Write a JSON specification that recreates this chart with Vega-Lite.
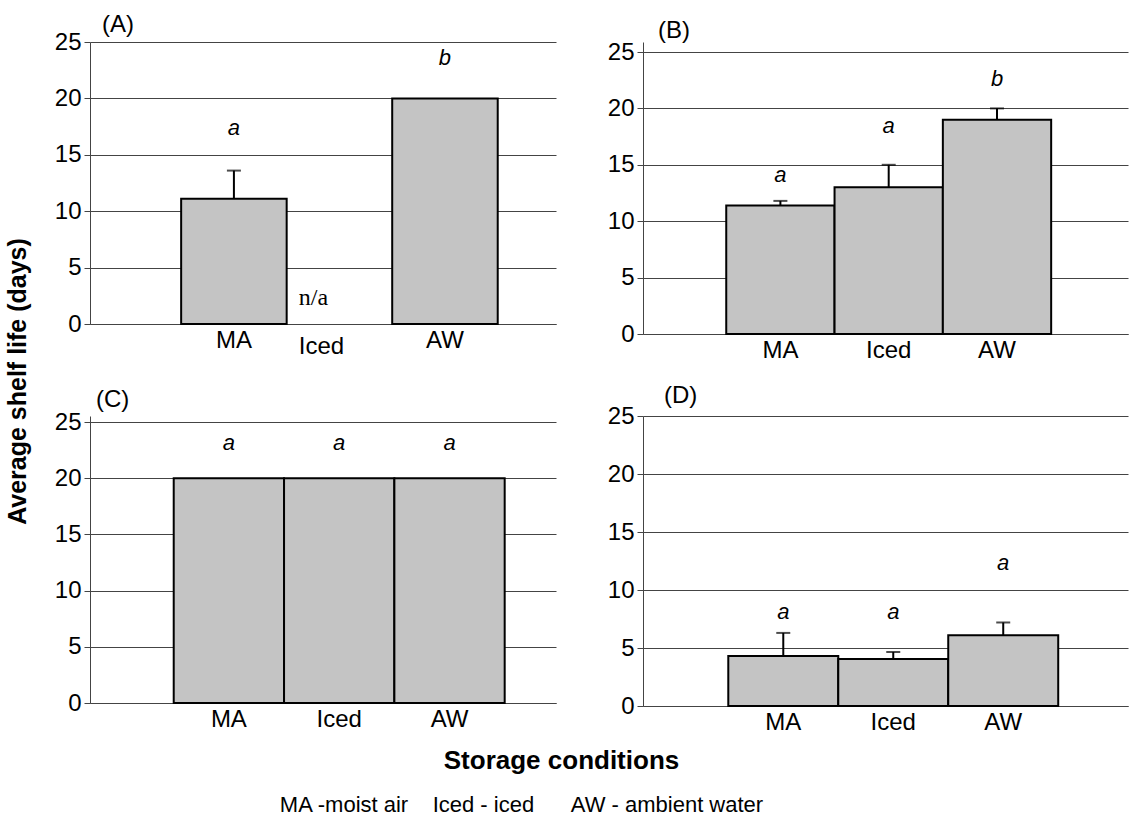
{
  "$schema": "https://vega.github.io/schema/vega-lite/v6.json",
  "data": {"values": [
    {"panel": "A", "cond": "MA", "value": 11.1, "upper": 13.6, "letter": "a", "lpos": 17.4, "note": null, "npos": null},
    {"panel": "A", "cond": "Iced", "value": null, "upper": null, "letter": null, "lpos": null, "note": "n/a", "npos": 2.3},
    {"panel": "A", "cond": "AW", "value": 20, "upper": null, "letter": "b", "lpos": 23.6, "note": null, "npos": null},
    {"panel": "B", "cond": "MA", "value": 11.4, "upper": 11.8, "letter": "a", "lpos": 14.1, "note": null, "npos": null},
    {"panel": "B", "cond": "Iced", "value": 13.0, "upper": 15.0, "letter": "a", "lpos": 18.4, "note": null, "npos": null},
    {"panel": "B", "cond": "AW", "value": 19.0, "upper": 20.0, "letter": "b", "lpos": 22.6, "note": null, "npos": null},
    {"panel": "C", "cond": "MA", "value": 20, "upper": null, "letter": "a", "lpos": 23.1, "note": null, "npos": null},
    {"panel": "C", "cond": "Iced", "value": 20, "upper": null, "letter": "a", "lpos": 23.1, "note": null, "npos": null},
    {"panel": "C", "cond": "AW", "value": 20, "upper": null, "letter": "a", "lpos": 23.1, "note": null, "npos": null},
    {"panel": "D", "cond": "MA", "value": 4.3, "upper": 6.3, "letter": "a", "lpos": 8.1, "note": null, "npos": null},
    {"panel": "D", "cond": "Iced", "value": 4.05, "upper": 4.65, "letter": "a", "lpos": 8.1, "note": null, "npos": null},
    {"panel": "D", "cond": "AW", "value": 6.1, "upper": 7.2, "letter": "a", "lpos": 12.3, "note": null, "npos": null}
  ]},
  "config": {
    "font": "Liberation Sans",
    "view": {"stroke": null},
    "axis": {"labelFont": "Liberation Sans", "labelFontSize": 24, "labelColor": "black", "gridColor": "#444", "domainColor": "#444", "tickColor": "#444", "titleColor": "black", "titleFont": "Liberation Sans"},
    "title": {"font": "Liberation Sans", "fontWeight": "normal", "color": "black"}
  },
  "padding": {"top": 13, "left": 5, "right": 5, "bottom": 5},
  "title": {"text": "MA -moist air\u00a0\u00a0\u00a0\u00a0Iced - iced\u00a0\u00a0\u00a0\u00a0\u00a0\u00a0AW - ambient water", "orient": "bottom", "anchor": "middle", "fontSize": 22, "offset": 22, "dx": -45},
  "bounds": "flush",
  "align": "each",
  "columns": 2,
  "spacing": {"row": 82, "column": 87},
  "concat": [
    {
      "width": 466, "height": 282,
      "title": {"text": "(A)", "anchor": "start", "frame": "group", "offset": -7, "dx": 12, "fontSize": 24},
      "transform": [{"filter": "datum.panel === 'A'"}],
      "encoding": {"x": {"field": "cond", "type": "nominal", "sort": null,
        "scale": {"domain": ["MA", "Iced", "AW"], "paddingInner": 0, "paddingOuter": 0.708, "align": 0.61},
        "axis": {"title": null, "labelAngle": 0, "ticks": false, "grid": false,
          "labelPadding": {"condition": {"test": "datum.value === 'Iced'", "value": 10}, "value": 4},
          "labelOffset": {"condition": {"test": "datum.value === 'Iced'", "value": -18}, "value": 0}}}},
      "layer": [
        {"mark": {"type": "bar", "fill": "#c4c4c4", "stroke": "black", "strokeWidth": 2},
         "encoding": {"y": {"field": "value", "type": "quantitative", "scale": {"domain": [0, 25], "nice": false},
           "axis": {"title": "Average shelf life (days)", "titleFontSize": 25, "titleFontWeight": "bold", "titleX": -73, "titleY": 339, "titleAlign": "center", "titleBaseline": "middle", "values": [0, 5, 10, 15, 20, 25], "grid": true, "tickSize": 6, "labelPadding": 3}}}},
        {"transform": [{"filter": "datum.upper != null"}], "mark": {"type": "rule", "strokeWidth": 2, "color": "black"},
         "encoding": {"y": {"field": "value", "type": "quantitative"}, "y2": {"field": "upper"}}},
        {"transform": [{"filter": "datum.upper != null"}], "mark": {"type": "tick", "size": 14, "thickness": 2, "color": "black"},
         "encoding": {"y": {"field": "upper", "type": "quantitative"}}},
        {"transform": [{"filter": "datum.letter != null"}], "mark": {"type": "text", "fontStyle": "italic", "fontSize": 22, "color": "black"},
         "encoding": {"y": {"field": "lpos", "type": "quantitative"}, "text": {"field": "letter"}}},
        {"transform": [{"filter": "datum.note != null"}], "mark": {"type": "text", "fontSize": 24, "font": "Liberation Serif", "color": "black", "dx": -26},
         "encoding": {"y": {"field": "npos", "type": "quantitative"}, "text": {"field": "note"}}}
      ]
    },
    {
      "width": 485, "height": 292,
      "title": {"text": "(B)", "anchor": "start", "frame": "group", "offset": -3, "dx": 15, "fontSize": 24},
      "transform": [{"filter": "datum.panel === 'B'"}],
      "encoding": {"x": {"field": "cond", "type": "nominal", "sort": null,
        "scale": {"domain": ["MA", "Iced", "AW"], "paddingInner": 0, "paddingOuter": 0.739, "align": 0.52},
        "axis": {"title": null, "labelAngle": 0, "ticks": false, "grid": false, "labelPadding": 4}}},
      "layer": [
        {"mark": {"type": "bar", "fill": "#c4c4c4", "stroke": "black", "strokeWidth": 2},
         "encoding": {"y": {"field": "value", "type": "quantitative", "scale": {"domain": [0, 25.887], "nice": false},
           "axis": {"title": null, "values": [0, 5, 10, 15, 20, 25], "grid": true, "tickSize": 6, "labelPadding": 3}}}},
        {"transform": [{"filter": "datum.upper != null"}], "mark": {"type": "rule", "strokeWidth": 2, "color": "black"},
         "encoding": {"y": {"field": "value", "type": "quantitative"}, "y2": {"field": "upper"}}},
        {"transform": [{"filter": "datum.upper != null"}], "mark": {"type": "tick", "size": 14, "thickness": 2, "color": "black"},
         "encoding": {"y": {"field": "upper", "type": "quantitative"}}},
        {"transform": [{"filter": "datum.letter != null"}], "mark": {"type": "text", "fontStyle": "italic", "fontSize": 22, "color": "black"},
         "encoding": {"y": {"field": "lpos", "type": "quantitative"}, "text": {"field": "letter"}}}
      ]
    },
    {
      "width": 466, "height": 287,
      "title": {"text": "(C)", "anchor": "start", "frame": "group", "offset": -2, "dx": 6, "fontSize": 24},
      "transform": [{"filter": "datum.panel === 'C'"}],
      "encoding": {"x": {"field": "cond", "type": "nominal", "sort": null,
        "scale": {"domain": ["MA", "Iced", "AW"], "paddingInner": 0, "paddingOuter": 0.612, "align": 0.62},
        "axis": {"title": "Storage conditions", "titleFontSize": 26, "titleFontWeight": "bold", "titleX": 471, "titleY": 57, "titleAlign": "center", "titleBaseline": "middle", "labelAngle": 0, "ticks": false, "grid": false, "labelPadding": 4}}},
      "layer": [
        {"mark": {"type": "bar", "fill": "#c4c4c4", "stroke": "black", "strokeWidth": 2},
         "encoding": {"y": {"field": "value", "type": "quantitative", "scale": {"domain": [0, 25.534], "nice": false},
           "axis": {"title": null, "values": [0, 5, 10, 15, 20, 25], "grid": true, "tickSize": 6, "labelPadding": 3}}}},
        {"transform": [{"filter": "datum.letter != null"}], "mark": {"type": "text", "fontStyle": "italic", "fontSize": 22, "color": "black"},
         "encoding": {"y": {"field": "lpos", "type": "quantitative"}, "text": {"field": "letter"}}}
      ]
    },
    {
      "width": 485, "height": 290,
      "title": {"text": "(D)", "anchor": "start", "frame": "group", "offset": -4, "dx": 21, "fontSize": 24},
      "transform": [{"filter": "datum.panel === 'D'"}],
      "encoding": {"x": {"field": "cond", "type": "nominal", "sort": null,
        "scale": {"domain": ["MA", "Iced", "AW"], "paddingInner": 0, "paddingOuter": 0.705, "align": 0.55},
        "axis": {"title": null, "labelAngle": 0, "ticks": false, "grid": false, "labelPadding": 4}}},
      "layer": [
        {"mark": {"type": "bar", "fill": "#c4c4c4", "stroke": "black", "strokeWidth": 2},
         "encoding": {"y": {"field": "value", "type": "quantitative", "scale": {"domain": [0, 25], "nice": false},
           "axis": {"title": null, "values": [0, 5, 10, 15, 20, 25], "grid": true, "tickSize": 6, "labelPadding": 3}}}},
        {"transform": [{"filter": "datum.upper != null"}], "mark": {"type": "rule", "strokeWidth": 2, "color": "black"},
         "encoding": {"y": {"field": "value", "type": "quantitative"}, "y2": {"field": "upper"}}},
        {"transform": [{"filter": "datum.upper != null"}], "mark": {"type": "tick", "size": 14, "thickness": 2, "color": "black"},
         "encoding": {"y": {"field": "upper", "type": "quantitative"}}},
        {"transform": [{"filter": "datum.letter != null"}], "mark": {"type": "text", "fontStyle": "italic", "fontSize": 22, "color": "black"},
         "encoding": {"y": {"field": "lpos", "type": "quantitative"}, "text": {"field": "letter"}}}
      ]
    }
  ]
}
